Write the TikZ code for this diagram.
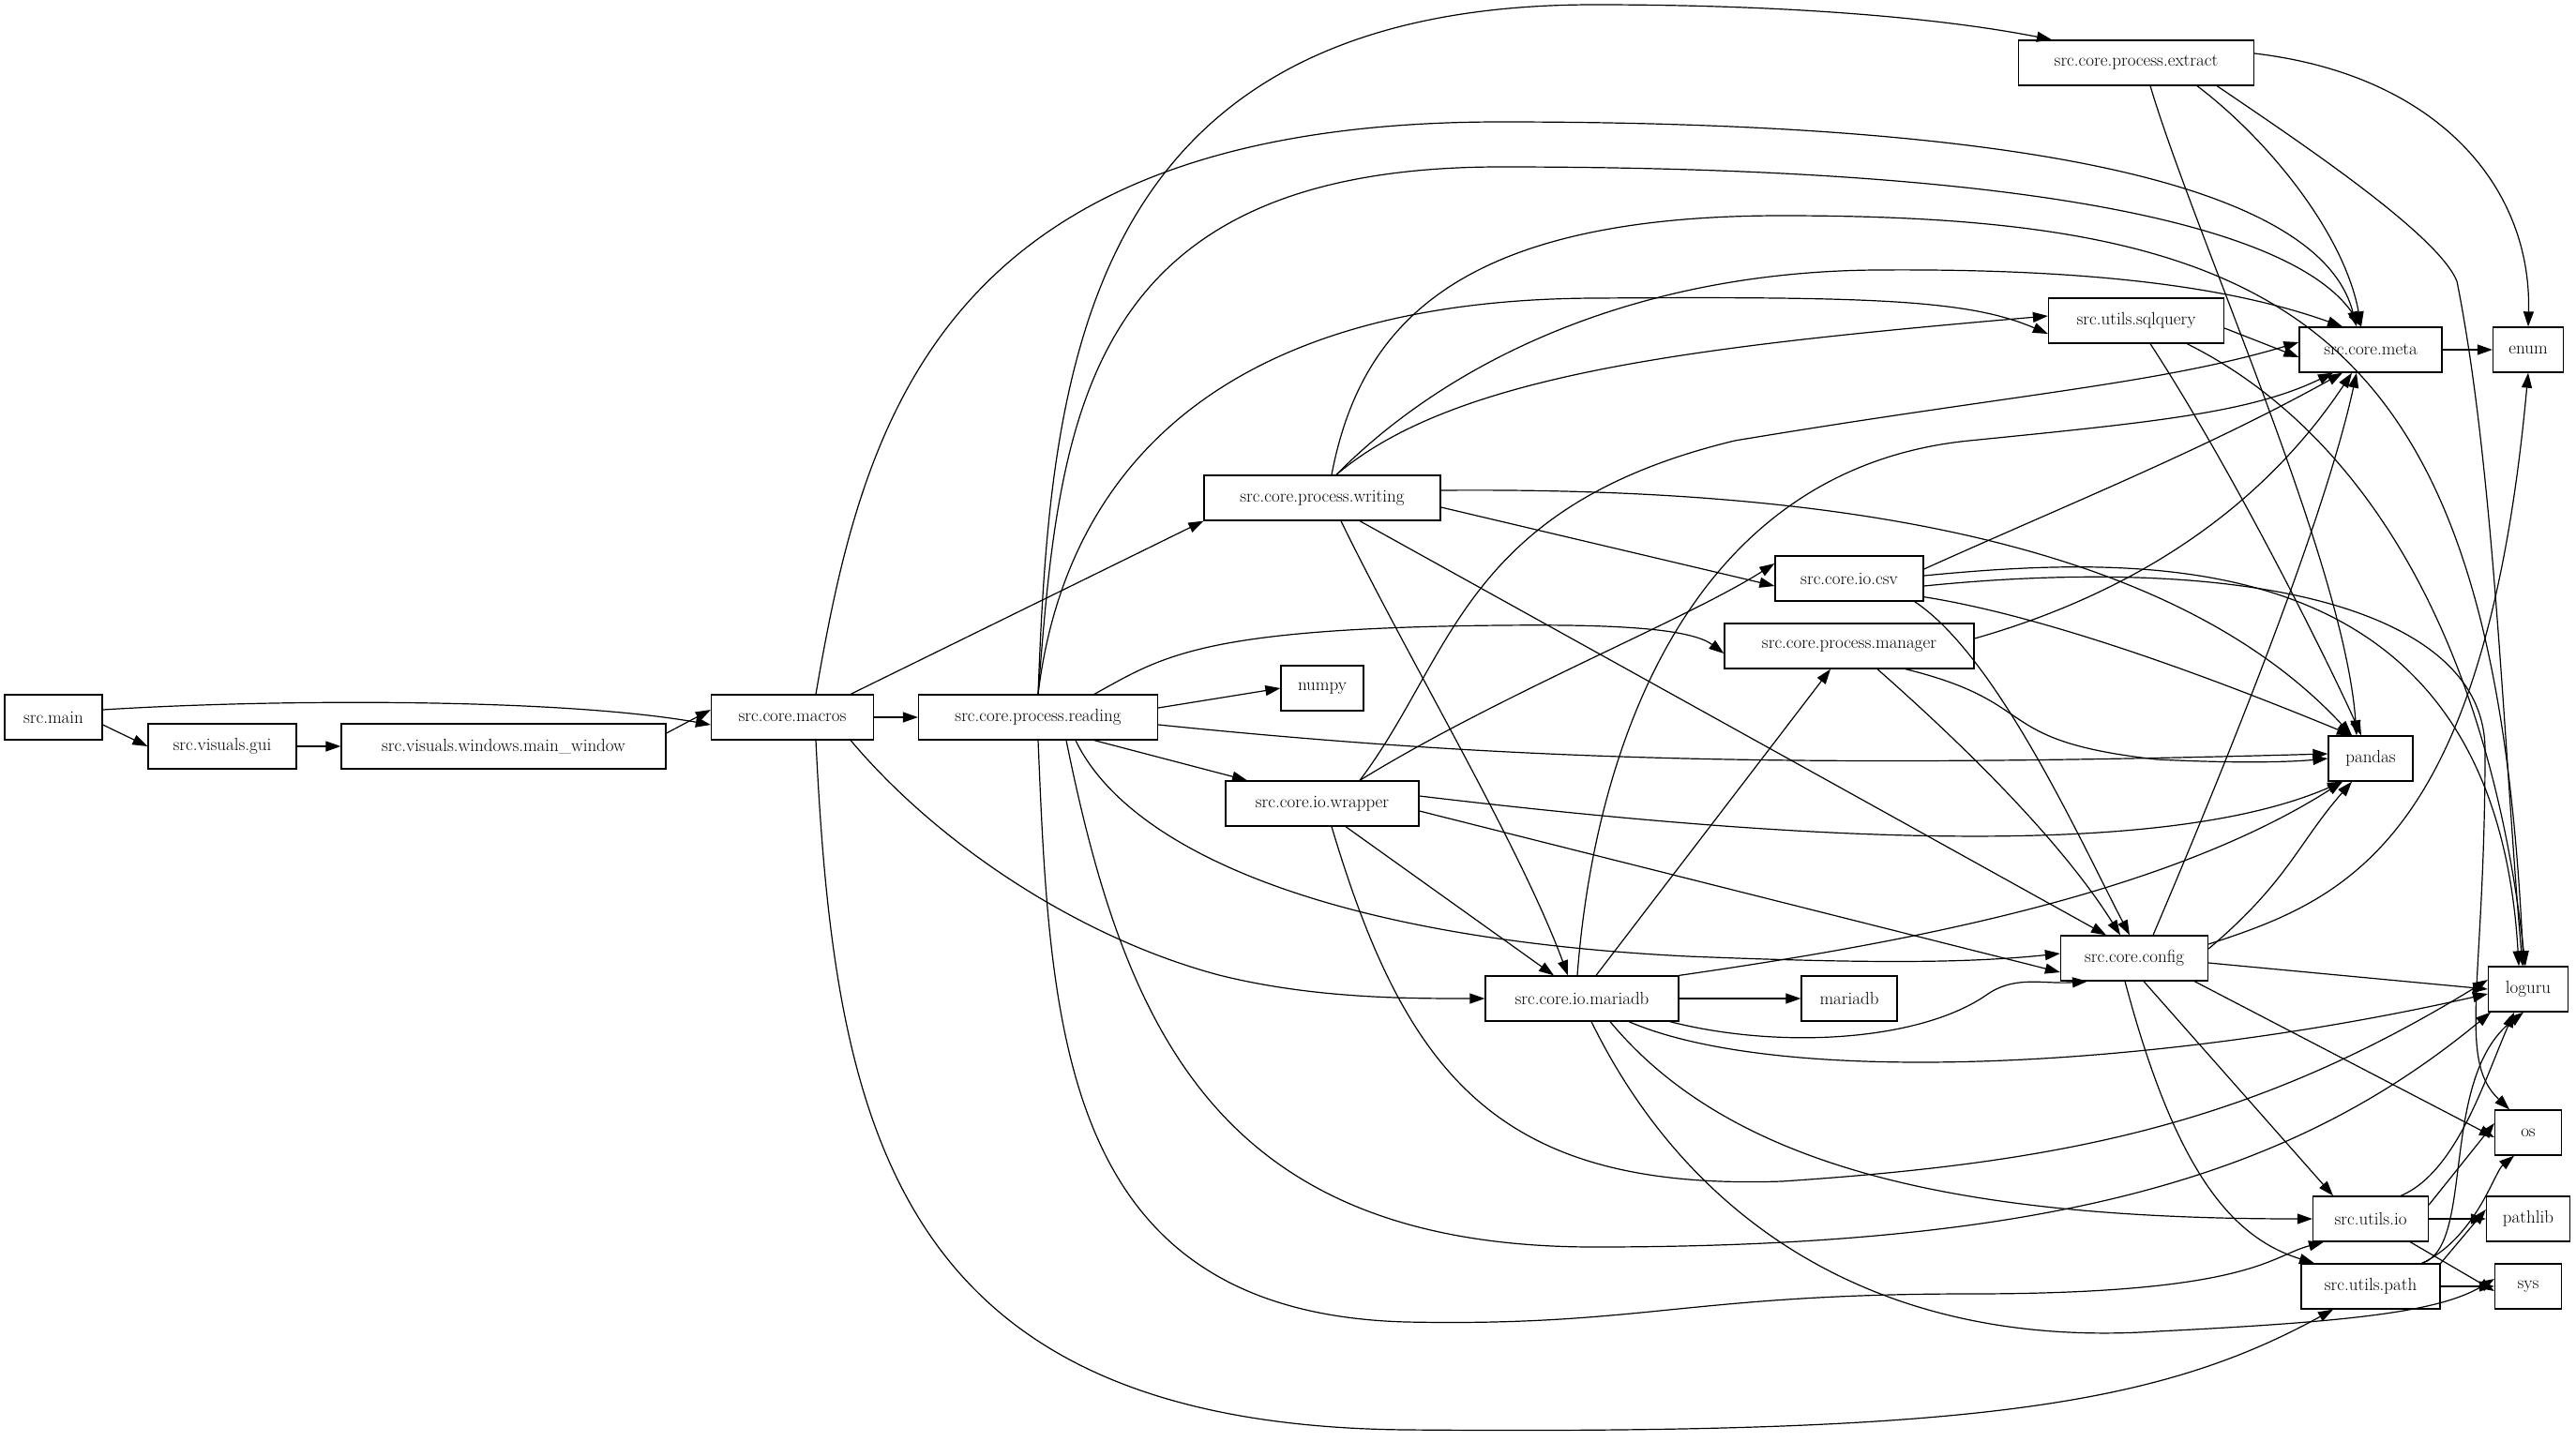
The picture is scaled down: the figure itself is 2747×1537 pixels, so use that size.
\documentclass[tikz,border=0pt]{standalone}
\usetikzlibrary{arrows.meta}
\begin{document}
\begin{tikzpicture}[x=1pt,y=-1pt,
  n/.style={draw,line width=1.3pt,minimum height=48pt,inner sep=2pt,font=\fontsize{19}{22}\selectfont},
  e/.style={line width=1.2pt,-{Triangle[length=16pt,width=11pt]}}]
\useasboundingbox (0,0) rectangle (2747,1537);
\node[n,minimum width=104pt] (main) at (57,765) {src.main};
\node[n,minimum width=158pt] (gui) at (237,796) {src.visuals.gui};
\node[n,minimum width=346pt] (mainwin) at (537,796) {src.visuals.windows.main\_window};
\node[n,minimum width=173pt] (macros) at (845,765) {src.core.macros};
\node[n,minimum width=255pt] (reading) at (1107,765) {src.core.process.reading};
\node[n,minimum width=88pt] (numpy) at (1410,734) {numpy};
\node[n,minimum width=252pt] (writing) at (1410,531) {src.core.process.writing};
\node[n,minimum width=206pt] (wrapper) at (1410,857) {src.core.io.wrapper};
\node[n,minimum width=206pt] (mariadbn) at (1687,1065) {src.core.io.mariadb};
\node[n,minimum width=102pt] (mariadb) at (1972,1065) {mariadb};
\node[n,minimum width=158pt] (csv) at (1972,617) {src.core.io.csv};
\node[n,minimum width=266pt] (manager) at (1972,689) {src.core.process.manager};
\node[n,minimum width=251pt] (extract) at (2278,67) {src.core.process.extract};
\node[n,minimum width=187pt] (sqlquery) at (2278,342) {src.utils.sqlquery};
\node[n,minimum width=157pt] (config) at (2276,1022) {src.core.config};
\node[n,minimum width=152pt] (meta) at (2528,373) {src.core.meta};
\node[n,minimum width=90pt] (pandas) at (2528,809) {pandas};
\node[n,minimum width=75pt] (enum) at (2696,373) {enum};
\node[n,minimum width=85pt] (loguru) at (2696,1055) {loguru};
\node[n,minimum width=71pt] (os) at (2696,1208) {os};
\node[n,minimum width=89pt] (pathlib) at (2696,1300) {pathlib};
\node[n,minimum width=71pt] (sys) at (2696,1372) {sys};
\node[n,minimum width=123pt] (uio) at (2528,1300) {src.utils.io};
\node[n,minimum width=148pt] (upath) at (2528,1372) {src.utils.path};

% left chain
\draw[e] (main.east) ++(0,-8) .. controls (300,745) and (600,745) .. ([yshift=-8pt]macros.west);
\draw[e] (main.east) ++(0,8) -- (gui.west);
\draw[e] (gui) -- (mainwin);
\draw[e] (mainwin.east) ++(0,-14) -- ([yshift=8pt]macros.west);
% macros
\draw[e] (macros) -- (reading);
\draw[e] (macros.north east) ++(-25,0) -- (writing.south west);
\draw[e] (macros.south east) ++(-25,0) .. controls (1000,900) and (1150,1000) .. (1300,1040) .. controls (1400,1065) and (1500,1065) .. (mariadbn.west);
\draw[e] (macros.north) ++(25,0) .. controls (920,450) and (1000,130) .. (1600,130) .. controls (2250,130) and (2480,220) .. ([xshift=-15pt]meta.north);
\draw[e] (macros.south) ++(25,0) .. controls (890,1200) and (950,1520) .. (1500,1525) .. controls (2100,1530) and (2300,1500) .. ([xshift=-40pt]upath.south);
% reading
\draw[e] (reading.north) .. controls (1120,400) and (1150,5) .. (1700,5) .. controls (1950,5) and (2100,25) .. ([xshift=-90pt]extract.north);
\draw[e] (reading.north) .. controls (1130,450) and (1150,178) .. (1600,178) .. controls (2250,178) and (2460,260) .. ([xshift=-10pt]meta.north);
\draw[e] (reading.north) .. controls (1130,550) and (1250,320) .. (1700,318) .. controls (2000,316) and (2100,320) .. ([yshift=-14pt]sqlquery.west);
\draw[e] ([xshift=60pt]reading.north) .. controls (1240,700) and (1280,670) .. (1600,667) .. controls (1700,666) and (1800,668) .. ([yshift=-8pt]manager.west);
\draw[e] (reading.east) ++(0,-10) -- (numpy.west);
\draw[e] (reading.east) ++(0,8) .. controls (1600,810) and (1900,820) .. ([yshift=5pt]pandas.west);
\draw[e] ([xshift=60pt]reading.south) -- ([xshift=-80pt]wrapper.north);
\draw[e] ([xshift=40pt]reading.south) .. controls (1200,900) and (1400,1000) .. (1800,1020) .. controls (2000,1028) and (2100,1027) .. ([yshift=5pt]config.west);
\draw[e] ([xshift=30pt]reading.south) .. controls (1200,1100) and (1300,1330) .. (1700,1330) .. controls (2200,1330) and (2450,1250) .. ([xshift=-40pt]loguru.south);
\draw[e] (reading.south) .. controls (1120,1100) and (1130,1400) .. (1500,1410) .. controls (1750,1415) and (1800,1380) .. (2100,1380) .. controls (2400,1380) and (2420,1340) .. ([xshift=-50pt]uio.south);
% writing
\draw[e] ([xshift=10pt]writing.north) .. controls (1450,350) and (1550,230) .. (1900,230) .. controls (2450,230) and (2660,350) .. ([xshift=-5pt]loguru.north);
\draw[e] ([xshift=15pt]writing.north) .. controls (1550,380) and (1750,290) .. (2000,288) .. controls (2250,286) and (2390,310) .. ([xshift=-30pt]meta.north);
\draw[e] ([xshift=15pt]writing.north) .. controls (1550,400) and (1800,370) .. ([yshift=5pt]sqlquery.west);
\draw[e] (writing.east) ++(0,10) -- ([yshift=-8pt]csv.west);
\draw[e] ([xshift=20pt]writing.south) .. controls (1500,700) and (1620,900) .. ([xshift=-15pt]mariadbn.north);
\draw[e] (writing.south) ++(40,0) -- ([xshift=-30pt]config.north);
\draw[e] (writing.east) ++(0,-8) .. controls (1900,520) and (2300,560) .. ([xshift=-20pt]pandas.north);
% wrapper
\draw[e] ([xshift=40pt]wrapper.north) .. controls (1550,700) and (1560,540) .. (1850,470) .. controls (2150,420) and (2300,410) .. ([yshift=8pt]meta.west);
\draw[e] ([xshift=40pt]wrapper.north) .. controls (1600,740) and (1800,660) .. ([yshift=16pt]csv.west);
\draw[e] (wrapper.east) ++(0,-8) .. controls (1900,895) and (2300,920) .. ([xshift=-30pt]pandas.south);
\draw[e] (wrapper.east) ++(0,8) -- ([yshift=-15pt]config.west);
\draw[e] ([xshift=25pt]wrapper.south) -- ([xshift=-30pt]mariadbn.north);
\draw[e] ([xshift=10pt]wrapper.south) .. controls (1500,1150) and (1600,1270) .. (1900,1260) .. controls (2200,1240) and (2400,1200) .. ([yshift=10pt]loguru.west);
% mariadbn
\draw[e] ([xshift=-5pt]mariadbn.north) .. controls (1700,800) and (1800,500) .. (2100,470) .. controls (2300,450) and (2400,440) .. ([xshift=-40pt]meta.south);
\draw[e] ([xshift=15pt]mariadbn.north) -- ([xshift=-20pt]manager.south);
\draw[e] (mariadbn) -- (mariadb);
\draw[e] (mariadbn.south east) ++(-10,0) .. controls (1900,1120) and (2050,1110) .. (2120,1060) .. controls (2150,1040) and (2180,1050) .. ([xshift=-50pt]config.south);
\draw[e] (mariadbn.north east) .. controls (2000,1010) and (2300,960) .. ([xshift=-30pt]pandas.south);
\draw[e] ([xshift=50pt]mariadbn.south) .. controls (1900,1160) and (2300,1140) .. ([yshift=-5pt]loguru.west);
\draw[e] ([xshift=30pt]mariadbn.south) .. controls (1850,1250) and (2100,1300) .. (uio.west);
\draw[e] ([xshift=10pt]mariadbn.south) .. controls (1800,1300) and (2000,1440) .. (2300,1420) .. controls (2500,1410) and (2600,1400) .. ([yshift=8pt]sys.west);
% csv
\draw[e] (csv.east) ++(0,-10) .. controls (2200,540) and (2350,480) .. ([xshift=-30pt]meta.south);
\draw[e] (csv.east) ++(0,-3) .. controls (2300,590) and (2660,580) .. ([xshift=-10pt]loguru.north);
\draw[e] (csv.east) ++(0,8) .. controls (2400,590) and (2650,650) .. (2650,800) .. controls (2650,1050) and (2620,1130) .. ([xshift=-20pt]os.north);
\draw[e] (csv.south east) ++(0,-5) .. controls (2200,660) and (2400,740) .. ([xshift=-20pt]pandas.north);
\draw[e] (csv.south east) ++(-10,0) .. controls (2130,700) and (2220,900) .. ([xshift=-5pt]config.north);
% manager
\draw[e] (manager.east) ++(0,-8) .. controls (2250,640) and (2400,560) .. ([xshift=-20pt]meta.south);
\draw[e] ([xshift=60pt]manager.south) .. controls (2180,750) and (2120,790) .. (2300,810) .. controls (2400,815) and (2450,812) .. (pandas.west);
\draw[e] ([xshift=30pt]manager.south) .. controls (2100,800) and (2200,900) .. ([xshift=-15pt]config.north);
% extract
\draw[e] (extract.south) ++(15,0) .. controls (2340,250) and (2500,600) .. ([xshift=-15pt]pandas.north);
\draw[e] (extract.south) ++(65,0) .. controls (2420,150) and (2500,250) .. ([xshift=-10pt]meta.north);
\draw[e] (extract.south east) ++(-40,0) .. controls (2450,150) and (2600,250) .. (2620,300) .. controls (2660,500) and (2670,800) .. ([xshift=-6pt]loguru.north);
\draw[e] (extract.east) ++(0,-10) .. controls (2600,80) and (2700,200) .. (enum.north);
% sqlquery
\draw[e] (sqlquery.east) ++(0,8) -- ([yshift=-8pt]meta.west);
\draw[e] (sqlquery.south) ++(15,0) .. controls (2380,500) and (2480,700) .. ([xshift=-10pt]pandas.north);
\draw[e] (sqlquery.south east) ++(-40,0) .. controls (2500,450) and (2650,650) .. ([xshift=-3pt]loguru.north);
% config
\draw[e] ([xshift=20pt]config.north) .. controls (2380,800) and (2480,550) .. ([xshift=-15pt]meta.south);
\draw[e] (config.east) ++(0,-15) .. controls (2500,960) and (2650,900) .. (enum.south);
\draw[e] (config.east) ++(0,-10) .. controls (2440,940) and (2450,900) .. ([xshift=-20pt]pandas.south);
\draw[e] (config.east) ++(0,5) -- (loguru.west);
\draw[e] (config.south east) ++(-15,0) -- ([yshift=-5pt]os.west);
\draw[e] (config.south) ++(10,0) -- ([xshift=-40pt]uio.north);
\draw[e] (config.south) ++(-10,0) .. controls (2320,1250) and (2380,1320) .. ([xshift=-60pt]upath.north);
% meta
\draw[e] (meta) -- (enum);
% utils
\draw[e] (uio.north east) ++(-30,0) .. controls (2620,1250) and (2650,1150) .. ([xshift=-15pt]loguru.south);
\draw[e] (uio.east) ++(0,-15) -- ([yshift=10pt]os.west);
\draw[e] (uio) -- (pathlib);
\draw[e] (uio.south east) ++(-20,0) -- ([yshift=-5pt]sys.west);
\draw[e] (upath.north east) ++(-20,0) .. controls (2640,1330) and (2600,1150) .. ([xshift=-5pt]loguru.south);
\draw[e] (upath.north east) ++(-20,0) .. controls (2640,1320) and (2660,1250) .. ([xshift=-15pt]os.south);
\draw[e] (upath.north east) -- ([yshift=10pt]pathlib.west);
\draw[e] (upath) -- (sys);
\end{tikzpicture}
\end{document}
